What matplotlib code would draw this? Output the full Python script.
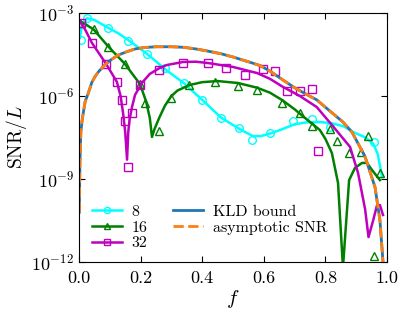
import numpy as np
import matplotlib
matplotlib.use("Agg")
import matplotlib.pyplot as plt
from matplotlib.lines import Line2D

# Theory curves, log10(SNR/L).
f8_line = [0.003, 0.01, 0.026, 0.05, 0.094, 0.13, 0.16, 0.19, 0.22, 0.25,
           0.285, 0.34, 0.40, 0.46, 0.50, 0.53, 0.565, 0.59, 0.62, 0.66,
           0.70, 0.74, 0.78, 0.82, 0.86, 0.89, 0.93, 0.955, 0.97, 0.984]
l8_line = [-3.9, -3.4, -3.19, -3.25, -3.53, -3.75, -3.98, -4.22, -4.47, -4.75,
           -5.08, -5.53, -6.14, -6.77, -7.05, -7.25, -7.45, -7.45, -7.36, -7.2,
           -7.02, -6.95, -6.94, -6.98, -7.1, -7.3, -7.5, -7.72, -8.1, -8.93]

f16_line = [0.002, 0.02, 0.048, 0.094, 0.149, 0.198, 0.218, 0.23, 0.237, 0.245,
            0.26, 0.279, 0.30, 0.32, 0.36, 0.40, 0.45, 0.516, 0.578, 0.62,
            0.66, 0.70, 0.74, 0.782, 0.80, 0.821, 0.841, 0.857, 0.877, 0.896,
            0.919, 0.935, 0.951, 0.977]
l16_line = [-3.29, -3.4, -3.6, -4.2, -4.84, -5.57, -6.2, -6.8, -7.48, -7.2,
            -6.8, -6.35, -6.0, -5.8, -5.6, -5.5, -5.46, -5.53, -5.7, -5.88,
            -6.15, -6.48, -6.85, -7.23, -7.55, -8.06, -9.14, -12.2, -9.04, -8.6,
            -8.42, -8.42, -8.67, -9.04]

f32_line = [0.002, 0.02, 0.042, 0.088, 0.123, 0.135, 0.143, 0.15, 0.156, 0.16,
            0.164, 0.172, 0.182, 0.204, 0.23, 0.26, 0.285, 0.338, 0.38, 0.42,
            0.50, 0.578, 0.62, 0.662, 0.717, 0.772, 0.825, 0.88, 0.906, 0.929,
            0.94, 0.955, 0.967, 0.977, 0.987]
l32_line = [-3.29, -3.6, -4.08, -4.84, -5.49, -6.0, -6.61, -7.3, -8.3, -7.3,
            -6.87, -6.4, -5.96, -5.53, -5.2, -5.0, -4.88, -4.77, -4.76, -4.81,
            -4.95, -5.17, -5.38, -5.67, -6.0, -6.4, -7.1, -7.84, -8.78, -10.1,
            -11.1, -10.5, -9.97, -9.94, -10.3]

f_bound = [0.001, 0.003, 0.006, 0.01, 0.014, 0.02, 0.03, 0.042, 0.052, 0.065,
           0.084, 0.10, 0.127, 0.155, 0.182, 0.21, 0.25, 0.30, 0.34, 0.38,
           0.415, 0.46, 0.50, 0.555, 0.588, 0.62, 0.662, 0.70, 0.74, 0.772,
           0.81, 0.857, 0.886, 0.912, 0.929, 0.961, 0.977, 0.987]
l_bound = [-10.2, -8.4, -7.3, -6.9, -6.6, -6.2, -5.9, -5.5, -5.3, -5.1,
           -4.88, -4.72, -4.52, -4.4, -4.3, -4.25, -4.22, -4.22, -4.24, -4.3,
           -4.37, -4.47, -4.59, -4.78, -4.9, -5.1, -5.42, -5.7, -5.95, -6.14,
           -6.5, -6.94, -7.3, -7.84, -8.2, -9.29, -10.48, -12.0]

# Simulation points (open markers).
f8_pts = [0.006, 0.026, 0.094, 0.16, 0.22, 0.279, 0.34, 0.40, 0.46, 0.52,
          0.561, 0.62, 0.695, 0.756, 0.815, 0.958]
l8_pts = [-3.98, -3.19, -3.54, -4.0, -4.48, -4.99, -5.53, -6.14, -6.8, -7.17,
          -7.59, -7.35, -6.9, -6.83, -7.12, -7.66]

f16_pts = [0.003, 0.048, 0.094, 0.149, 0.198, 0.214, 0.26, 0.298, 0.357, 0.44,
           0.516, 0.578, 0.659, 0.718, 0.756, 0.815, 0.837, 0.877, 0.916,
           0.938, 0.958, 0.977]
l16_pts = [-3.35, -3.58, -4.23, -4.84, -5.57, -6.25, -7.26, -6.08, -5.6, -5.5,
           -5.64, -5.78, -6.26, -6.62, -7.08, -7.2, -7.63, -8.06, -8.02,
           -7.45, -11.8, -8.78]

f32_pts = [0.006, 0.042, 0.088, 0.123, 0.14, 0.149, 0.159, 0.172, 0.198, 0.26,
           0.338, 0.418, 0.477, 0.539, 0.597, 0.636, 0.676, 0.717, 0.757, 0.777]
l32_pts = [-3.36, -4.08, -4.84, -5.49, -6.14, -6.9, -8.56, -6.61, -5.6, -5.06,
           -4.81, -4.81, -5.0, -5.24, -5.02, -5.09, -5.82, -5.82, -5.75, -8.0]

plt.rcParams.update({
    "font.family": "serif",
    "font.serif": ["cmr10"],
    "mathtext.fontset": "cm",
    "axes.formatter.use_mathtext": True,
    "xtick.direction": "in",
    "ytick.direction": "in",
    "xtick.top": True,
    "ytick.right": True,
})

fig = plt.figure(figsize=(4.05, 3.16), dpi=100)
ax = fig.add_axes([79 / 405, 1 - 262 / 316, 308 / 405, 249 / 316])

series = [
    (f8_line, l8_line, f8_pts, l8_pts, "cyan", "o", "8"),
    (f16_line, l16_line, f16_pts, l16_pts, "g", "^", "16"),
    (f32_line, l32_line, f32_pts, l32_pts, "m", "s", "32"),
]
handles = []
for fl, ll, fp, lp, col, mk, lab in series:
    ax.plot(fl, 10.0 ** np.array(ll), color=col, lw=1.8)
    ax.plot(fp, 10.0 ** np.array(lp), ls="none", marker=mk, mfc="none",
            mec=col, ms=5.5, mew=1.0)
    handles.append(Line2D([], [], color=col, lw=1.8, marker=mk, mfc="none",
                          mec=col, ms=4.5, mew=1.0, label=lab))

bound = 10.0 ** np.array(l_bound)
h1, = ax.plot(f_bound, bound, color="tab:blue", lw=2, label="KLD bound")
h2, = ax.plot(f_bound, bound, color="tab:orange", lw=2, ls="--",
              label="asymptotic SNR")
handles += [h1, h2]

ax.set_yscale("log")
ax.set_xlim(0, 1)
ax.set_ylim(1e-12, 1e-3)
ax.set_yticks([1e-12, 1e-9, 1e-6, 1e-3])
ax.minorticks_off()
ax.set_xticks([0, 0.2, 0.4, 0.6, 0.8, 1.0])
ax.set_xticklabels(["0.0", "0.2", "0.4", "0.6", "0.8", "1.0"])
ax.tick_params(labelsize=13, length=4)
ax.tick_params(axis="x", pad=6)

ax.set_xlabel(r"$f$", fontsize=15, labelpad=2)
ax.set_ylabel(r"$\mathrm{SNR}/L$", fontsize=14, labelpad=2)

ax.legend(handles=handles, ncol=2, loc="lower left", frameon=False,
          fontsize=11.5, handlelength=1.9, handletextpad=0.6,
          labelspacing=0.1, columnspacing=1.6, borderpad=0.3,
          bbox_to_anchor=(0.0, -0.005))

fig.savefig("out.png", dpi=100)
